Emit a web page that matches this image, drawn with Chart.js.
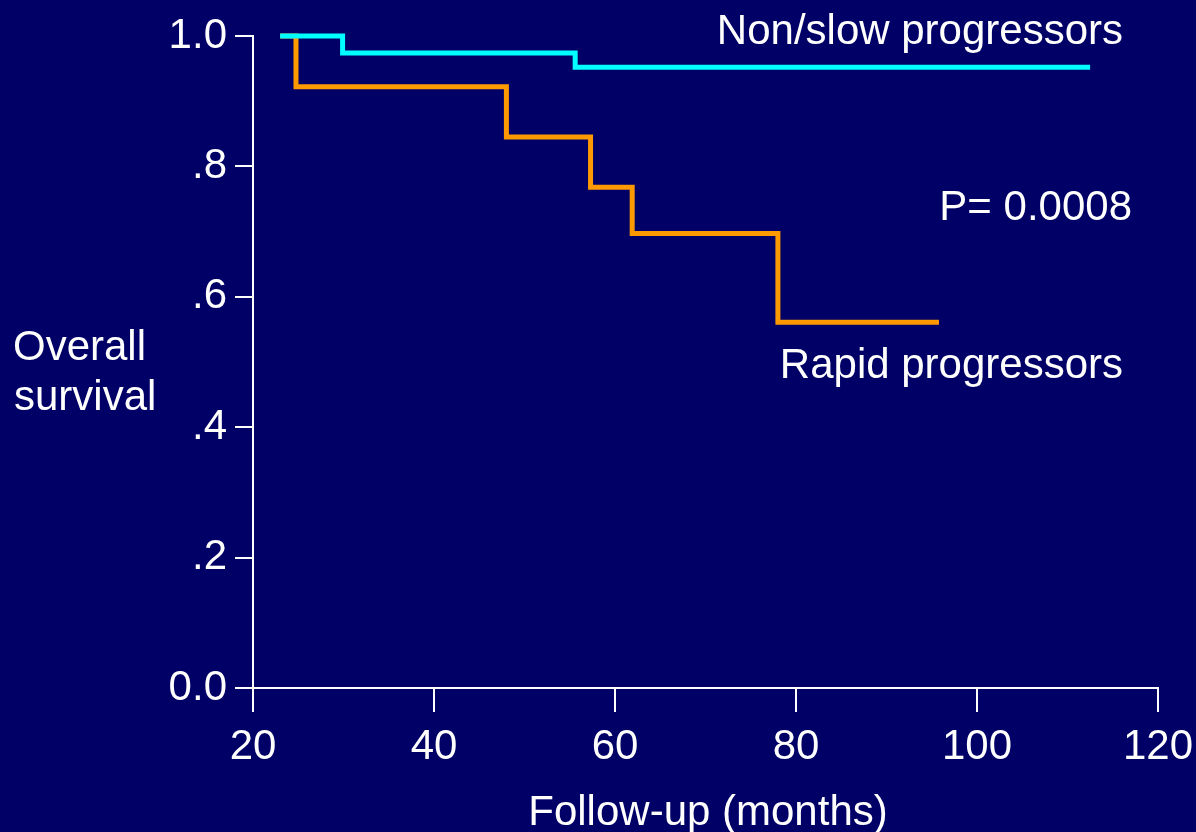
<!DOCTYPE html>
<html>
<head>
<meta charset="utf-8">
<script src="https://cdn.jsdelivr.net/npm/chart.js@4/dist/chart.umd.min.js"></script>
<style>
  html, body { margin: 0; padding: 0; background: #000066; }
  #wrap { width: 1196px; height: 832px; }
</style>
</head>
<body>
<div id="wrap"><canvas id="c" width="1196" height="832"></canvas></div>
<script>
// Kaplan-Meier step points (months, survival)
const slowMonths = [23.0, 29.9, 55.6, 112.5];
const slowSurvival = [1.0, 0.974, 0.952, 0.952];
const rapidMonths = [23.0, 24.75, 48.0, 57.3, 61.9, 78.0, 95.8];
const rapidSurvival = [1.0, 0.922, 0.845, 0.768, 0.697, 0.561, 0.561];
const yTickValues = [0, 0.2, 0.4, 0.6, 0.8, 1.0];
const yTickLabels = ['0.0', '.2', '.4', '.6', '.8', '1.0'];
const xTickValues = [20, 40, 60, 80, 100, 120];
const seriesNames = ['Non/slow progressors', 'Rapid progressors'];
const pValueText = 'P= 0.0008';
const yAxisTitle = ['Overall', 'survival'];
const xAxisTitle = 'Follow-up (months)';

const FONT = '"Liberation Sans", Arial, sans-serif';
const toPoints = (xs, ys) => xs.map((x, i) => ({ x: x, y: ys[i] }));

const bgPlugin = {
  id: 'bg',
  beforeDraw(chart) {
    const ctx = chart.ctx;
    ctx.save();
    ctx.fillStyle = '#000066';
    ctx.fillRect(0, 0, chart.width, chart.height);
    ctx.restore();
  }
};

const textPlugin = {
  id: 'texts',
  afterDraw(chart) {
    const ctx = chart.ctx;
    ctx.save();
    ctx.fillStyle = '#ffffff';
    ctx.font = '42px ' + FONT;
    ctx.textBaseline = 'alphabetic';
    ctx.textAlign = 'right';
    ctx.fillText(seriesNames[0], 1123, 44);
    ctx.fillText(pValueText, 1132, 220);
    ctx.fillText(seriesNames[1], 1123, 378);
    ctx.textAlign = 'left';
    ctx.fillText(yAxisTitle[0], 13, 360);
    ctx.fillText(yAxisTitle[1], 14, 410);
    ctx.textAlign = 'center';
    ctx.fillText(xAxisTitle, 708, 825);
    ctx.restore();
  }
};

new Chart(document.getElementById('c'), {
  type: 'line',
  data: {
    datasets: [
      {
        label: seriesNames[0],
        data: toPoints(slowMonths, slowSurvival),
        borderColor: '#00ffff',
        borderWidth: 5,
        stepped: 'before',
        pointRadius: 0,
        fill: false,
        clip: false,
        borderJoinStyle: 'miter'
      },
      {
        label: seriesNames[1],
        data: toPoints(rapidMonths, rapidSurvival),
        borderColor: '#ff9900',
        borderWidth: 5,
        stepped: 'before',
        pointRadius: 0,
        fill: false,
        clip: false,
        borderJoinStyle: 'miter'
      }
    ]
  },
  options: {
    responsive: false,
    animation: false,
    devicePixelRatio: 1,
    layout: { padding: { top: 36, right: 38, left: 0, bottom: 0 } },
    plugins: {
      legend: { display: false },
      tooltip: { enabled: false },
      title: { display: false }
    },
    scales: {
      x: {
        type: 'linear',
        min: 20,
        max: 120,
        afterFit(scale) {
          scale.height = 144;
          scale.paddingLeft = 0;
          scale.paddingRight = 0;
        },
        afterBuildTicks(scale) { scale.ticks = xTickValues.map(v => ({ value: v })); },
        ticks: {
          color: '#ffffff',
          font: { family: FONT, size: 42 },
          padding: 10,
          maxRotation: 0,
          autoSkip: false,
          callback: (v) => String(v)
        },
        grid: {
          display: true,
          drawOnChartArea: false,
          drawTicks: true,
          tickLength: 24,
          color: '#ffffff',
          lineWidth: 2
        },
        border: { display: true, color: '#ffffff', width: 2 }
      },
      y: {
        type: 'linear',
        min: 0,
        max: 1,
        afterFit(scale) {
          scale.width = 253;
          scale.paddingTop = 0;
          scale.paddingBottom = 0;
        },
        afterBuildTicks(scale) { scale.ticks = yTickValues.map(v => ({ value: v })); },
        ticks: {
          color: '#ffffff',
          font: { family: FONT, size: 42 },
          padding: 8,
          autoSkip: false,
          callback: (v) => {
            const i = yTickValues.findIndex(t => Math.abs(t - v) < 1e-9);
            return i >= 0 ? yTickLabels[i] : '';
          }
        },
        grid: {
          display: true,
          drawOnChartArea: false,
          drawTicks: true,
          tickLength: 18,
          color: '#ffffff',
          lineWidth: 2
        },
        border: { display: true, color: '#ffffff', width: 2 }
      }
    }
  },
  plugins: [bgPlugin, textPlugin]
});
</script>
</body>
</html>
